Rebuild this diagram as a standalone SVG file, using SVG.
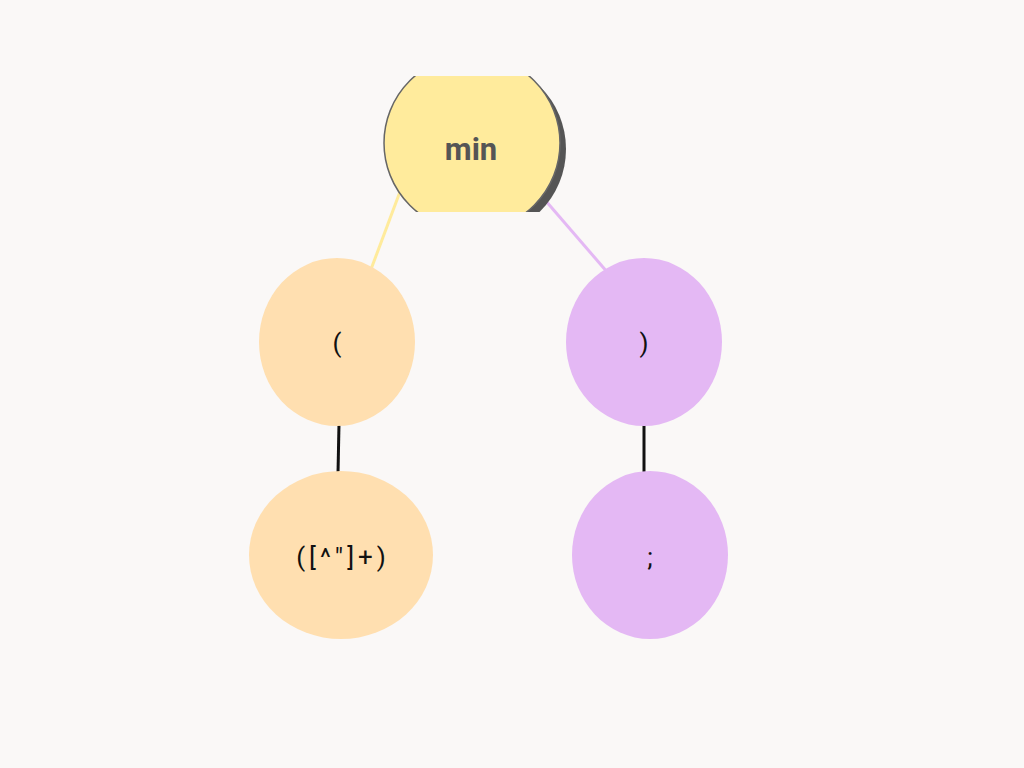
<svg xmlns="http://www.w3.org/2000/svg" width="1024" height="768" viewBox="0 0 1024 768">
<style>
.lbl{font-family:Roboto,"Liberation Sans",sans-serif;font-size:26px;fill:#111;text-anchor:middle;dominant-baseline:central}
.orange{fill:#FFDFB0}
.purple{fill:#E4B8F4}
</style>
<defs>
<clipPath id="topclip"><rect x="300" y="76" width="350" height="136"/></clipPath>
</defs>
<rect width="1024" height="768" fill="#FAF8F7"/>
<g id="connectors">
<line x1="410" y1="165" x2="370" y2="272" stroke="#FFEB9C" stroke-width="3"/>
<line x1="520" y1="171" x2="608" y2="273" stroke="#E4B8F4" stroke-width="3"/>
<line x1="339" y1="424" x2="338" y2="473" stroke="#111" stroke-width="3"/>
<line x1="644" y1="424" x2="644" y2="473" stroke="#111" stroke-width="3"/>
</g>
<g id="node-min" clip-path="url(#topclip)">
<circle cx="478" cy="149" r="88" fill="#555"/>
<circle cx="472" cy="143" r="88" fill="#FFEB9C" stroke="#666" stroke-width="1.5"/>
<text x="471" y="149" font-family="Roboto,'Liberation Sans',sans-serif" font-size="31" font-weight="bold" fill="#555" text-anchor="middle" dominant-baseline="central">min</text>
</g>
<g id="node-lparen">
<ellipse cx="337" cy="342" rx="78" ry="84" class="orange"/>
<text x="337" y="343" class="lbl">(</text>
</g>
<g id="node-rparen">
<ellipse cx="644" cy="342" rx="78" ry="84" class="purple"/>
<text x="644" y="343" class="lbl">)</text>
</g>
<g id="node-group">
<ellipse cx="341" cy="555" rx="92" ry="84" class="orange"/>
<text x="343" y="557" class="lbl" letter-spacing="4">([^"]+)</text>
</g>
<g id="node-semi">
<ellipse cx="650" cy="555" rx="78" ry="84" class="purple"/>
<text x="650" y="557" class="lbl">;</text>
</g>
</svg>
